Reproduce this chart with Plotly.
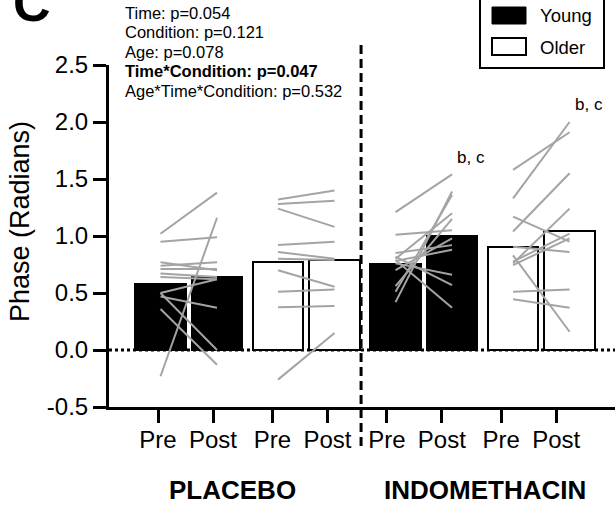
import plotly.graph_objects as go

# ---------------- data ----------------
conditions = ["PLACEBO", "INDOMETHACIN"]
timepoints = ["Pre", "Post"]
age_groups = ["Young", "Older"]

# group means (radians)
young_placebo_mean = [0.58, 0.64]
older_placebo_mean = [0.77, 0.79]
young_indo_mean = [0.755, 1.00]
older_indo_mean = [0.90, 1.04]

# individual participants (pre, post)
young_placebo_pre = [1.02, 0.95, 0.77, 0.74, 0.71, 0.67, 0.64, 0.50, 0.50, 0.47, 0.36, -0.23]
young_placebo_post = [1.38, 0.99, 0.70, 0.77, 0.71, 0.64, 0.62, 0.62, 0.00, 0.37, -0.13, 1.16]
older_placebo_pre = [1.32, 1.28, 1.24, 0.92, 0.86, 0.80, 0.70, 0.51, 0.375, -0.26]
older_placebo_post = [1.40, 1.31, 1.08, 0.95, 0.80, 0.79, 0.555, 0.53, 0.385, 0.15]
young_indo_pre = [1.21, 1.01, 0.42, 0.51, 0.80, 0.56, 0.85, 0.78, 0.76, 0.79, 0.82, 0.70]
young_indo_post = [1.54, 1.05, 1.39, 1.36, 1.20, 1.15, 0.92, 0.88, 0.66, 0.37, 0.57, 0.98]
older_indo_pre = [1.58, 1.33, 1.17, 1.04, 0.905, 0.76, 0.775, 0.745, 0.83, 0.51, 0.445]
older_indo_post = [1.91, 2.00, 0.95, 1.55, 0.86, 1.24, 1.02, 0.98, 0.16, 0.53, 0.37]

stats_text = [
    "Time: p=0.054",
    "Condition: p=0.121",
    "Age: p=0.078",
    "Time*Condition: p=0.047",
    "Age*Time*Condition: p=0.532",
]
stats_bold = [False, False, False, True, False]
sig_label = "b, c"
y_tick_values = [-0.5, 0.0, 0.5, 1.0, 1.5, 2.0, 2.5]
y_tick_text = ["-0.5", "0.0", "0.5", "1.0", "1.5", "2.0", "2.5"]

# ---------------- layout helpers ----------------
FONT = "Liberation Sans, Arial, Helvetica, sans-serif"
W, H = 615, 506
ML, MR, MT, MB = 109, 0, 65, 99
PW, PH = W - ML - MR, H - MT - MB


def xp(px):
    return (px - ML) / PW


def yp(py):
    return (H - MB - py) / PH


pair_step = 2.08
# tick axis and bar axis use slightly different pixel scales
tick_origin, tick_unit = 158.0, 55.0
bar_origin, bar_unit = 160.5, 56.5
tick_range = [(ML - tick_origin) / tick_unit, (W - tick_origin) / tick_unit]
bar_range = [(ML - bar_origin) / bar_unit, (W - bar_origin) / bar_unit]

groups = [
    ("Young", young_placebo_mean, young_placebo_pre, young_placebo_post),
    ("Older", older_placebo_mean, older_placebo_pre, older_placebo_post),
    ("Young", young_indo_mean, young_indo_pre, young_indo_post),
    ("Older", older_indo_mean, older_indo_pre, older_indo_post),
]

fig = go.Figure()
tickvals, ticktext = [], []
pair_x = []
for g in range(len(groups)):
    xs = [g * pair_step, g * pair_step + 1]
    pair_x.append(xs)
    tickvals += xs
    ticktext += timepoints

# an empty trace anchors the category tick axis so its ticks are drawn
fig.add_trace(go.Scatter(x=tickvals, y=[None] * len(tickvals), xaxis="x", yaxis="y",
                         mode="markers", showlegend=False, hoverinfo="skip"))

for g, (age, mean, pre, post) in enumerate(groups):
    fill = "black" if age == "Young" else "white"
    fig.add_trace(go.Bar(
        x=pair_x[g], y=mean, width=0.9, xaxis="x2", yaxis="y",
        marker=dict(color=fill, line=dict(color="black", width=2)),
        showlegend=False, hoverinfo="skip",
    ))

for g, (age, mean, pre, post) in enumerate(groups):
    xs = pair_x[g]
    lx, ly = [], []
    for a, b in zip(pre, post):
        lx += [xs[0], xs[1], None]
        ly += [a, b, None]
    fig.add_trace(go.Scatter(
        x=lx, y=ly, mode="lines", xaxis="x2", yaxis="y",
        line=dict(color="#a4a4a4", width=2),
        showlegend=False, hoverinfo="skip",
    ))

shapes = []
annotations = []

# zero reference line
shapes.append(dict(type="line", xref="paper", yref="y", x0=0, x1=1, y0=0, y1=0,
                   line=dict(color="black", width=3, dash="dot"), layer="below"))

# dashed divider between conditions (midway between the two axis scales)
div_t = (pair_x[1][1] + pair_x[2][0]) / 2
div_px = ((tick_origin + tick_unit * div_t) + (bar_origin + bar_unit * div_t)) / 2
div_x = xp(div_px)
shapes.append(dict(type="line", xref="paper", yref="paper", x0=div_x, x1=div_x,
                   y0=yp(446), y1=yp(40),
                   line=dict(color="black", width=3, dash="9px,5px")))

# legend box
shapes.append(dict(type="rect", xref="paper", yref="paper",
                   x0=xp(480), x1=xp(604), y0=yp(68), y1=yp(-10),
                   line=dict(color="black", width=2), fillcolor="white"))
shapes.append(dict(type="rect", xref="paper", yref="paper",
                   x0=xp(492), x1=xp(526), y0=yp(24), y1=yp(7),
                   line=dict(color="black", width=1), fillcolor="black"))
shapes.append(dict(type="rect", xref="paper", yref="paper",
                   x0=xp(492), x1=xp(526), y0=yp(55), y1=yp(38),
                   line=dict(color="black", width=2), fillcolor="white"))
for label, cy in zip(age_groups, [15, 47]):
    annotations.append(dict(text=label, xref="paper", yref="paper", x=xp(538), y=yp(cy),
                            xanchor="left", yanchor="middle", showarrow=False,
                            font=dict(family=FONT, size=18.5, color="black")))

# statistics block
for i, (txt, bold) in enumerate(zip(stats_text, stats_bold)):
    annotations.append(dict(text=f"<b>{txt}</b>" if bold else txt,
                            xref="paper", yref="paper", x=xp(123), y=yp(13 + 19.4 * i),
                            xanchor="left", yanchor="middle", showarrow=False,
                            font=dict(family=FONT, size=16.5, color="black")))

# significance letters above the indomethacin post bars
for g in (2, 3):
    post_vals = groups[g][3]
    annotations.append(dict(text=sig_label, xref="x2", yref="y",
                            x=pair_x[g][1], y=max(post_vals) + 0.15,
                            xanchor="left", yanchor="middle", xshift=3, showarrow=False,
                            font=dict(family=FONT, size=17, color="black")))

# condition labels
for name, cx in zip(conditions, [232, 485]):
    annotations.append(dict(text=f"<b>{name}</b>", xref="paper", yref="paper",
                            x=xp(cx), y=yp(490), xanchor="center", yanchor="middle",
                            showarrow=False, font=dict(family=FONT, size=26, color="black")))

# y-axis title
annotations.append(dict(text="Phase (Radians)", xref="paper", yref="paper",
                        x=xp(20), y=yp(222), xanchor="center", yanchor="middle",
                        textangle=-90, showarrow=False,
                        font=dict(family=FONT, size=27, color="black")))

# panel letter
annotations.append(dict(text="<b>C</b>", xref="paper", yref="paper",
                        x=xp(11), y=yp(3), xanchor="left", yanchor="middle",
                        showarrow=False, font=dict(family=FONT, size=52, color="black")))

fig.update_layout(
    width=W, height=H,
    margin=dict(l=ML, r=MR, t=MT, b=MB, pad=0),
    paper_bgcolor="white", plot_bgcolor="white",
    font=dict(family=FONT, color="black"),
    bargap=0,
    xaxis=dict(range=tick_range, tickmode="array", tickvals=tickvals, ticktext=ticktext,
               showline=True, linecolor="black", linewidth=3,
               ticks="outside", ticklen=13, tickwidth=3, tickcolor="black",
               ticklabelstandoff=-4,
               showgrid=False, zeroline=False,
               tickfont=dict(family=FONT, size=24, color="black")),
    xaxis2=dict(range=bar_range, overlaying="x", anchor="y", visible=False,
                showgrid=False, zeroline=False),
    yaxis=dict(range=[-0.5, 2.5], tickvals=y_tick_values, ticktext=y_tick_text,
               showline=True, linecolor="black", linewidth=3,
               ticks="outside", ticklen=13, tickwidth=3, tickcolor="black",
               showgrid=False, zeroline=False,
               tickfont=dict(family=FONT, size=24, color="black")),
    shapes=shapes,
    annotations=annotations,
)

fig.write_html("out.html")
